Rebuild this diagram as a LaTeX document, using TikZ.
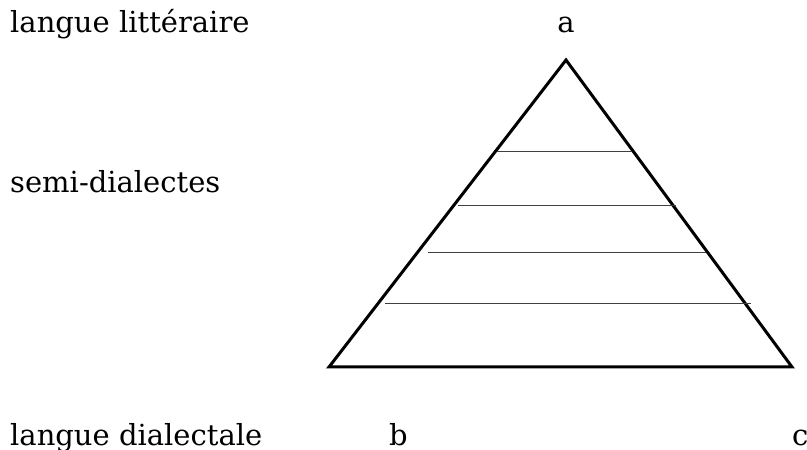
\documentclass[tikz,border=0pt]{standalone}
\usepackage{fontspec}
\setmainfont{DejaVu Serif}
\usetikzlibrary{positioning,calc}
\tikzset{
  lbl/.style={anchor=base west,inner sep=0pt,font=\fontsize{29}{34}\selectfont},
  edge/.style={line width=3pt,line join=miter},
  stratum/.style={line width=1pt,black!75}
}
\begin{document}
\begin{tikzpicture}[x=1pt,y=1pt]
  \useasboundingbox (0,0) rectangle (807,450);
  % sommets du triangle
  \coordinate (A) at (566,390);
  \coordinate (B) at (329,83);
  \coordinate (C) at (792,83);
  \draw[edge] (A) -- (B) -- (C) -- cycle;
  % couches intermediaires: y / gauche / droite
  \foreach \n/\y/\xl/\xr in {1/298/497/632, 2/244/458/676, 3/197/428/706, 4/146/385/751} {
    \coordinate (L\n) at (\xl,\y);
    \coordinate (R\n) at (\xr,\y);
    \draw[stratum] (L\n) -- (R\n);
  }
  % etiquettes
  \node[lbl] (litt) at (10,417) {langue littéraire};
  \node[lbl] (semi) at (10,257) {semi-dialectes};
  \node[lbl] (dial) at (10,4) {langue dialectale};
  \node[lbl,anchor=base] (a) at (566,417) {a};
  \node[lbl] (b) at (389,4) {b};
  \node[lbl] (c) at (792,4) {c};
\end{tikzpicture}
\end{document}
